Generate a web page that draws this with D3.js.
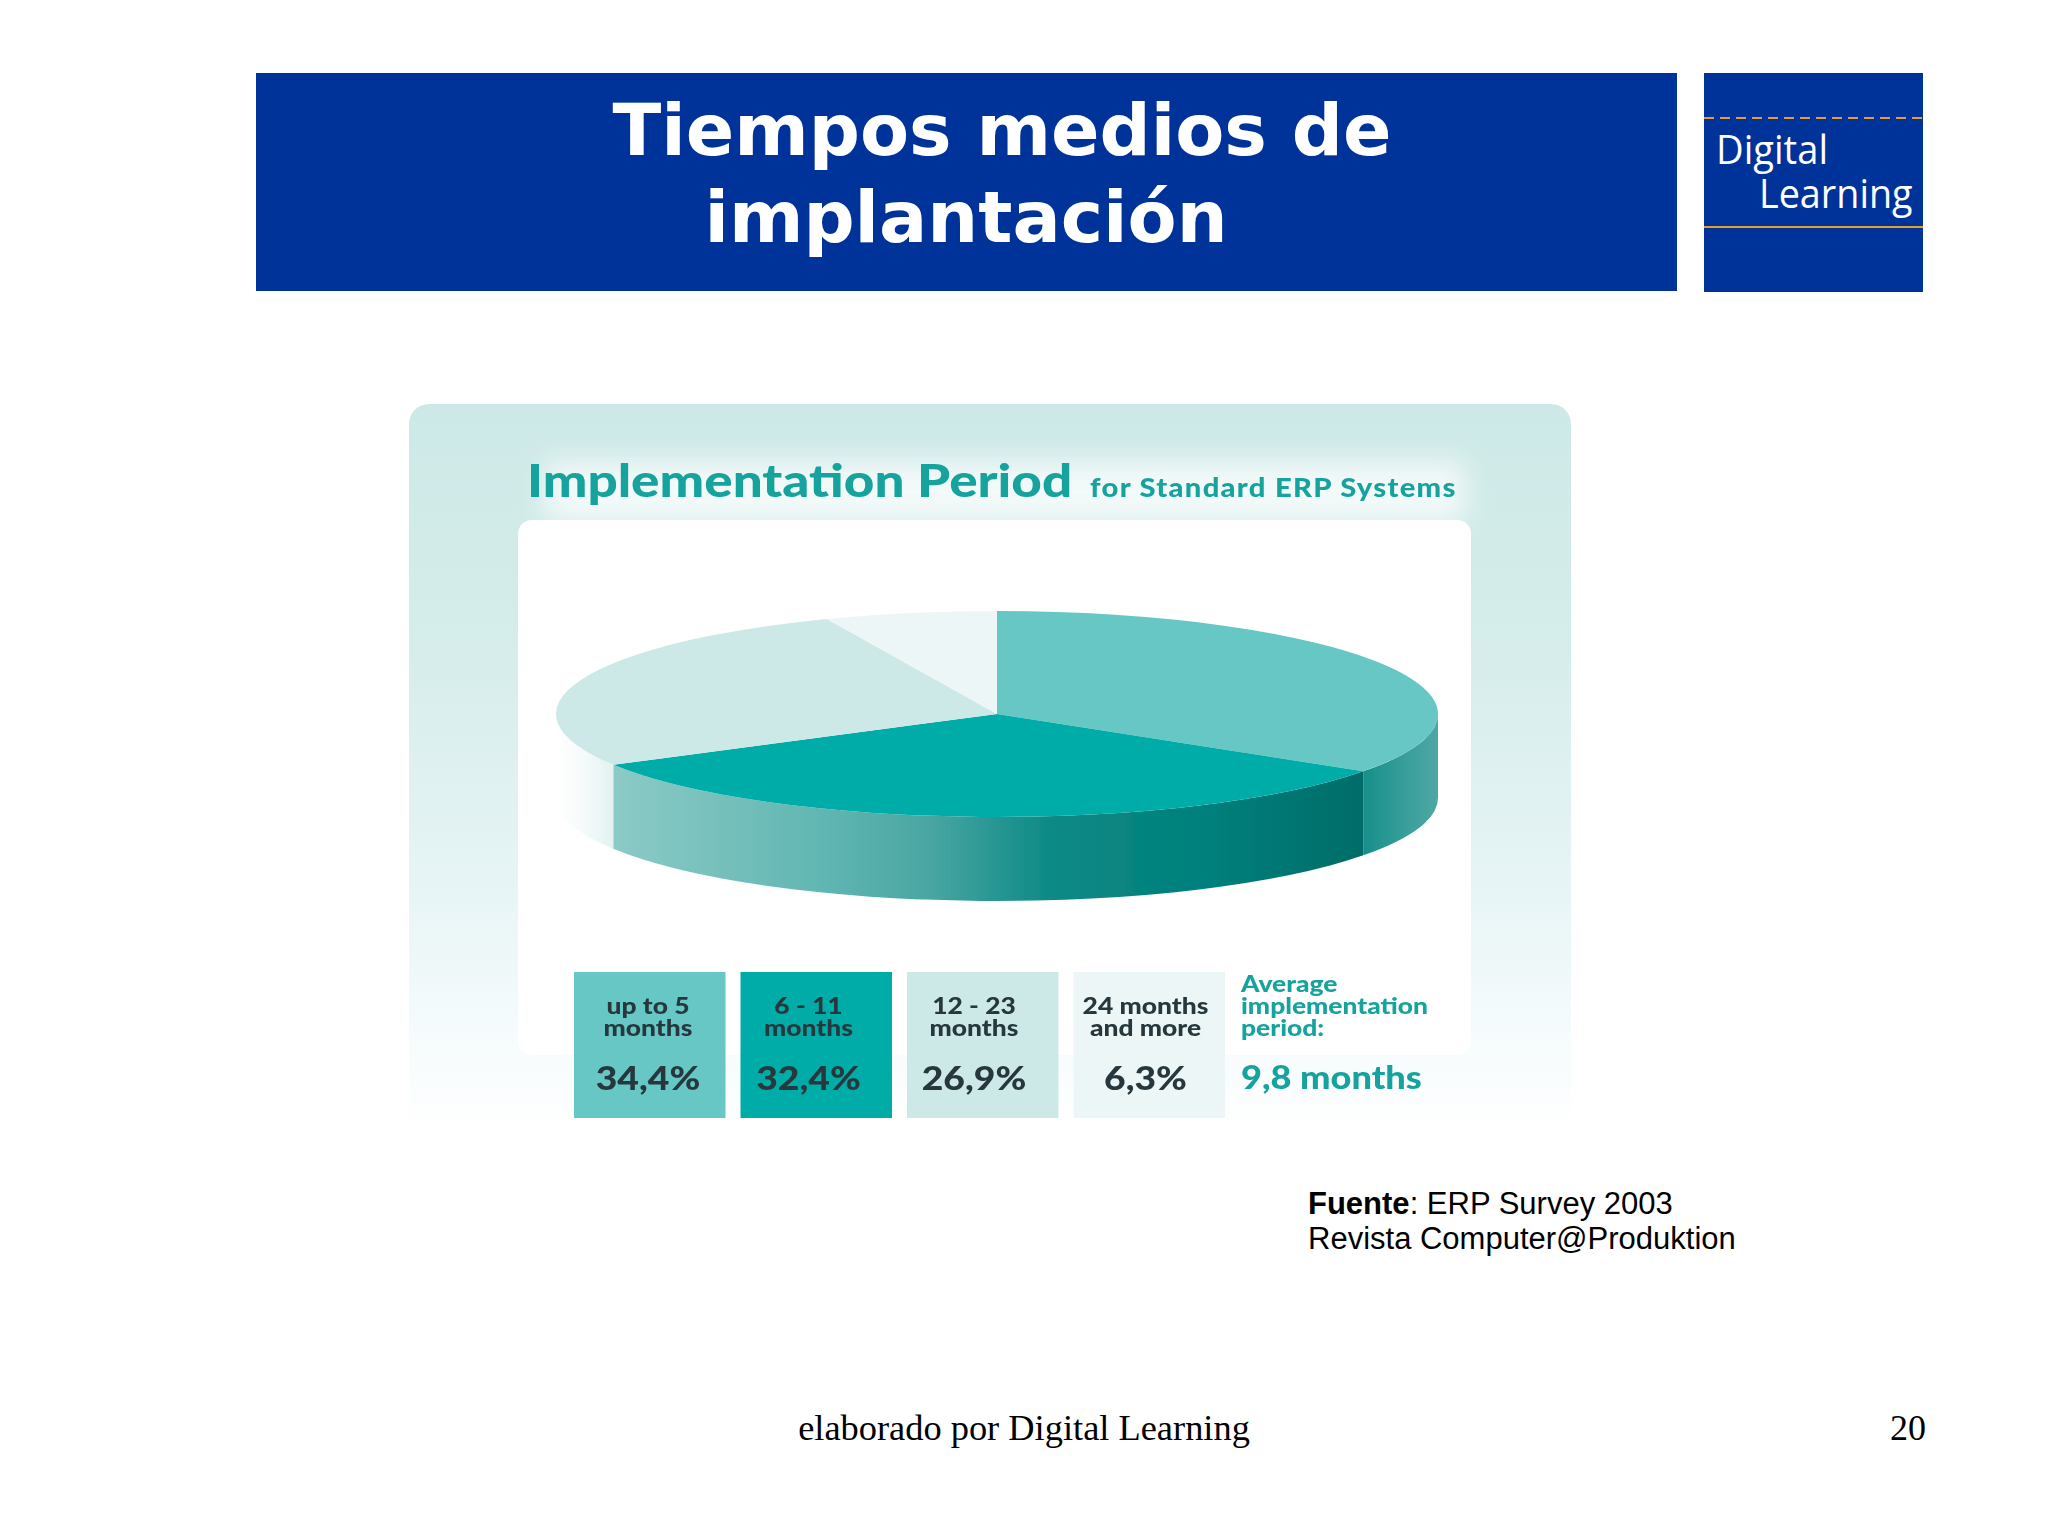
<!DOCTYPE html>
<html><head><meta charset="utf-8">
<script src="https://cdnjs.cloudflare.com/ajax/libs/d3/7.8.5/d3.min.js"></script>
<style>html,body{margin:0;padding:0;background:#fff}svg{display:block}</style>
</head><body><svg id="c" width="2048" height="1535"></svg>
<script>
const categories = [["up to 5","months"],["6 - 11","months"],["12 - 23","months"],["24 months","and more"]];
const values = [34.4, 32.4, 26.9, 6.3];
const valueLabels = ["34,4%","32,4%","26,9%","6,3%"];
const sliceColors = ["#66c7c4","#03aca7","#cde9e7","#edf6f6"];
const titleLines = ["Tiempos medios de","implantación"];
const averageLines = ["Average","implementation","period:"];
const averageValue = "9,8 months";

const svg = d3.select("#c");
const defs = svg.append("defs");
function grad(id, stops, x2=1, y2=0){
  const g = defs.append("linearGradient").attr("id",id).attr("x1",0).attr("y1",0).attr("x2",x2).attr("y2",y2);
  stops.forEach(s=>g.append("stop").attr("offset",s[0]).attr("stop-color",s[1]));
}
grad("panel",[[0,"#cde9e7"],[.3,"#d4ecea"],[.65,"#e6f4f5"],[.88,"#f7fcfd"],[1,"#ffffff"]],0,1);
grad("wallFront",[[0,"#8ccac6"],[.27,"#62b7b3"],[.42,"#4aa6a2"],[.58,"#0d8a86"],[.8,"#007f7b"],[1,"#006c68"]]);
grad("wallRight",[[0,"#178f8a"],[.55,"#379e9a"],[1,"#4ea8a4"]]);
grad("wallLeft",[[0,"#ffffff"],[.5,"#f4fafa"],[1,"#e3f2f1"]]);
const soft = defs.append("filter").attr("id","soft").attr("x","-5%").attr("y","-5%").attr("width","110%").attr("height","110%");
soft.append("feGaussianBlur").attr("stdDeviation",0.7);
const glow = defs.append("filter").attr("id","glow").attr("x","-20%").attr("y","-60%").attr("width","140%").attr("height","220%");
glow.append("feGaussianBlur").attr("stdDeviation",14);

// stretch a text horizontally by a factor so its width follows the reference lettering
function widen(sel, k){
  sel.each(function(){
    const w=this.getComputedTextLength();
    d3.select(this).attr("textLength",w*k).attr("lengthAdjust","spacingAndGlyphs");
  });
  return sel;
}

// header
const navy = "#003399";
svg.append("rect").attr("x",256).attr("y",73).attr("width",1421).attr("height",218).attr("fill",navy);
svg.append("rect").attr("x",1704).attr("y",73).attr("width",219).attr("height",219).attr("fill",navy);
svg.selectAll(".tl").data(titleLines).join("text")
  .attr("x",(d,i)=>i?966:1002).attr("y",(d,i)=>i?242:155).attr("text-anchor","middle")
  .attr("font-family","DejaVu Sans").attr("font-weight","bold").attr("font-size",71.5).attr("fill","#fff").text(d=>d);
svg.append("line").attr("x1",1704).attr("x2",1923).attr("y1",118).attr("y2",118).attr("stroke","#e0a030").attr("stroke-width",2).attr("stroke-dasharray","10 6");
svg.append("line").attr("x1",1704).attr("x2",1923).attr("y1",227).attr("y2",227).attr("stroke","#e0a030").attr("stroke-width",2);
widen(svg.append("text").attr("x",1716).attr("y",164).attr("font-family","Open Sans").attr("font-size",41).attr("fill","#fff").text("Digital"),.93);
widen(svg.append("text").attr("x",1759).attr("y",208).attr("font-family","Open Sans").attr("font-size",41).attr("fill","#fff").text("Learning"),.92);

// panel
const chart = svg.append("g").attr("filter","url(#soft)");
chart.append("rect").attr("x",409).attr("y",404).attr("width",1162).attr("height",730).attr("rx",20).attr("fill","url(#panel)");
chart.append("rect").attr("x",545).attr("y",462).attr("width",920).attr("height",60).attr("fill","#fff").attr("opacity",.75).attr("filter","url(#glow)");
chart.append("rect").attr("x",518).attr("y",520).attr("width",953).attr("height",535).attr("rx",14).attr("fill","#fff");

const teal = "#14a39d";
widen(chart.append("text").attr("x",527).attr("y",497).attr("font-family","Lato").attr("font-weight",900).attr("font-size",46.5).attr("fill",teal).text("Implementation Period"),1.14);
widen(chart.append("text").attr("x",1090).attr("y",497).attr("font-family","Lato").attr("font-weight",900).attr("font-size",27).attr("letter-spacing",1.2).attr("fill",teal).text("for Standard ERP Systems"),1.08);

// pie
const cx=997, cy=714, rx=441, ry=103, depth=84;
const toPx = d3.scaleLinear().domain([-1,1]).range([-rx,rx]);
const toPy = d3.scaleLinear().domain([-1,1]).range([-ry,ry]);
const pie = d3.pie().sort(null).value(d=>d)(values);
const pieG = chart.append("g").attr("transform",`translate(${cx},${cy})`);
const pt = (a,dy=0)=>[toPx(Math.sin(a)), toPy(-Math.cos(a))+dy];
const H=Math.PI/2, T=3*Math.PI/2;
function wall(a0,a1){
  const s=Math.max(a0,H), e=Math.min(a1,T);
  if(s>=e) return null;
  const p0=pt(s),p1=pt(e),p2=pt(e,depth),p3=pt(s,depth);
  return `M${p0}A${rx},${ry} 0 0 1 ${p1}L${p2}A${rx},${ry} 0 0 0 ${p3}Z`;
}
const wallFills=["url(#wallRight)","url(#wallFront)","url(#wallLeft)","none"];
pieG.selectAll(".wall").data(pie).join("path").attr("class","wall")
  .attr("d",d=>wall(d.startAngle,d.endAngle)).attr("fill",(d,i)=>wallFills[i]);
const arc = d3.arc().innerRadius(0).outerRadius(rx);
pieG.append("g").attr("transform",`scale(1,${ry/rx})`)
  .selectAll(".top").data(pie).join("path").attr("class","top")
  .attr("d",arc).attr("fill",(d,i)=>sliceColors[i]);

// legend
const band = d3.scaleBand().domain(d3.range(4)).range([574,1225]).paddingInner(0.09).paddingOuter(0);
const ink="#27383d";
const leg = chart.selectAll(".leg").data(categories).join("g").attr("class","leg")
  .attr("transform",(d,i)=>`translate(${band(i)},972)`);
leg.append("rect").attr("width",band.bandwidth()).attr("height",146).attr("fill",(d,i)=>sliceColors[i]);
const tx = [74,68,67,72];
leg.each(function(d,i){
  const g=d3.select(this);
  d.forEach((t,j)=>widen(g.append("text").attr("x",tx[i]).attr("y",42+j*22).attr("text-anchor","middle")
    .attr("font-family","Lato").attr("font-weight",900).attr("font-size",22).attr("fill",ink).text(t),1.2));
  widen(g.append("text").attr("x",tx[i]).attr("y",118).attr("text-anchor","middle")
    .attr("font-family","Lato").attr("font-weight",900).attr("font-size",33).attr("fill",ink).text(valueLabels[i]),1.13);
});
widen(chart.selectAll(".avg").data(averageLines).join("text").attr("x",1241).attr("y",(d,i)=>992+i*22)
  .attr("font-family","Lato").attr("font-weight",900).attr("font-size",22).attr("fill",teal).text(d=>d),1.2);
widen(chart.append("text").attr("x",1241).attr("y",1089).attr("font-family","Lato").attr("font-weight",900).attr("font-size",32).attr("fill",teal).text(averageValue),1.13);

// source
const src = svg.append("text").attr("font-family","Liberation Sans").attr("font-size",31).attr("fill","#000");
const l1 = src.append("tspan").attr("x",1308).attr("y",1214);
l1.append("tspan").attr("font-weight","bold").text("Fuente");
l1.append("tspan").text(": ERP Survey 2003");
src.append("tspan").attr("x",1308).attr("y",1249).text("Revista Computer@Produktion");

// footer
svg.append("text").attr("x",1024).attr("y",1440).attr("text-anchor","middle").attr("font-family","Liberation Serif").attr("font-size",36.4).attr("fill","#000").text("elaborado por Digital Learning");
svg.append("text").attr("x",1926).attr("y",1440).attr("text-anchor","end").attr("font-family","Liberation Serif").attr("font-size",36).attr("fill","#000").text("20");
</script></body></html>
